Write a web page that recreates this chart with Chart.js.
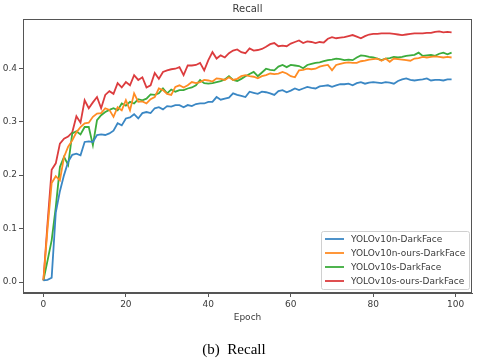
<!DOCTYPE html>
<html>
<head>
<meta charset="utf-8">
<script src="https://cdn.jsdelivr.net/npm/chart.js@4.4.1/dist/chart.umd.min.js"></script>
<style>
  html, body { margin: 0; padding: 0; background: #fff; }
  #wrap { width: 480px; height: 360px; }
</style>
</head>
<body>
<div id="wrap"><canvas id="myChart" width="480" height="360"></canvas></div>
<script>
// Data (epoch 0..99)
let epochs = [];
for (let i = 0; i < 100; i++) epochs.push(i);

let xTicks = [0, 20, 40, 60, 80, 100];
let yTicks = [0.0, 0.1, 0.2, 0.3, 0.4];

let seriesNames = ["YOLOv10n-DarkFace", "YOLOv10n-ours-DarkFace", "YOLOv10s-DarkFace", "YOLOv10s-ours-DarkFace"];
let seriesColors = ["#3a87c4", "#ff8c24", "#3cac3c", "#dc3c3e"];

let v10n = [0.003, 0.004, 0.008, 0.13, 0.17, 0.2, 0.225, 0.238, 0.24, 0.237,
  0.262, 0.263, 0.262, 0.275, 0.276, 0.275, 0.278, 0.283, 0.297, 0.293,
  0.306, 0.308, 0.314, 0.306, 0.316, 0.318, 0.316, 0.325, 0.327, 0.323,
  0.329, 0.328, 0.331, 0.331, 0.327, 0.331, 0.329, 0.333, 0.334, 0.334,
  0.337, 0.337, 0.346, 0.341, 0.343, 0.345, 0.353, 0.35, 0.348, 0.346,
  0.356, 0.354, 0.352, 0.356, 0.355, 0.353, 0.35, 0.357, 0.359, 0.355,
  0.358, 0.362, 0.359, 0.362, 0.365, 0.363, 0.362, 0.366, 0.367, 0.368,
  0.365, 0.368, 0.37, 0.37, 0.371, 0.368, 0.372, 0.374, 0.371, 0.373,
  0.374, 0.373, 0.372, 0.374, 0.373, 0.371, 0.376, 0.379, 0.381, 0.378,
  0.377, 0.378, 0.379, 0.381, 0.377, 0.378, 0.378, 0.377, 0.379, 0.379];

let v10nOurs = [0.003, 0.10, 0.185, 0.198, 0.19, 0.234, 0.253, 0.265, 0.28, 0.29,
  0.297, 0.298, 0.309, 0.315, 0.316, 0.325, 0.322, 0.309, 0.327, 0.321,
  0.34, 0.321, 0.353, 0.337, 0.338, 0.334, 0.342, 0.346, 0.362, 0.359,
  0.352, 0.35, 0.365, 0.368, 0.364, 0.368, 0.374, 0.372, 0.374, 0.378,
  0.377, 0.375, 0.381, 0.38, 0.378, 0.383, 0.378, 0.38, 0.385, 0.387,
  0.385, 0.384, 0.381, 0.385, 0.387, 0.39, 0.389, 0.39, 0.393, 0.39,
  0.385, 0.383, 0.396, 0.397, 0.399, 0.398, 0.399, 0.403, 0.405, 0.406,
  0.396, 0.406, 0.408, 0.41, 0.411, 0.41, 0.41, 0.413, 0.414, 0.416,
  0.417, 0.418, 0.414, 0.418, 0.412, 0.418, 0.417, 0.416, 0.415, 0.414,
  0.418, 0.419, 0.421, 0.42, 0.421, 0.422, 0.421, 0.42, 0.421, 0.42];

let v10s = [0.003, 0.04, 0.078, 0.14, 0.215, 0.234, 0.219, 0.278, 0.282, 0.276,
  0.29, 0.29, 0.256, 0.303, 0.312, 0.318, 0.322, 0.325, 0.321, 0.334,
  0.33, 0.337, 0.334, 0.342, 0.34, 0.343, 0.351, 0.35, 0.353, 0.362,
  0.353, 0.36, 0.356, 0.359, 0.359, 0.362, 0.364, 0.368, 0.378, 0.372,
  0.371, 0.372, 0.374, 0.376, 0.379, 0.385, 0.378, 0.376, 0.38, 0.385,
  0.389, 0.393, 0.385, 0.392, 0.399, 0.397, 0.396, 0.403, 0.406, 0.402,
  0.406, 0.405, 0.404, 0.4, 0.406, 0.408, 0.41, 0.411, 0.413, 0.415,
  0.416, 0.418, 0.417, 0.415, 0.416, 0.415, 0.42, 0.424, 0.423, 0.421,
  0.42, 0.418, 0.415, 0.418, 0.419, 0.421, 0.42, 0.421, 0.423, 0.424,
  0.425, 0.429, 0.423, 0.424, 0.425, 0.423, 0.427, 0.429, 0.426, 0.429];

let v10sOurs = [0.003, 0.11, 0.21, 0.222, 0.259, 0.268, 0.272, 0.28, 0.31, 0.298,
  0.34, 0.325, 0.336, 0.346, 0.325, 0.35, 0.357, 0.352, 0.372, 0.364,
  0.374, 0.368, 0.387, 0.378, 0.383, 0.364, 0.368, 0.391, 0.38, 0.393,
  0.396, 0.398, 0.399, 0.402, 0.387, 0.405, 0.405, 0.406, 0.41, 0.396,
  0.415, 0.43, 0.418, 0.424, 0.42, 0.428, 0.433, 0.435, 0.43, 0.428,
  0.437, 0.433, 0.434, 0.436, 0.44, 0.445, 0.447, 0.441, 0.442, 0.441,
  0.446, 0.449, 0.452, 0.447, 0.45, 0.449, 0.447, 0.449, 0.448, 0.455,
  0.458, 0.456, 0.457, 0.458, 0.46, 0.462, 0.459, 0.456, 0.46, 0.463,
  0.464, 0.464, 0.465, 0.465, 0.465, 0.464, 0.463, 0.462, 0.463, 0.464,
  0.465, 0.465, 0.465, 0.466, 0.466, 0.468, 0.469, 0.467, 0.468, 0.467];

let allSeries = [v10n, v10nOurs, v10s, v10sOurs];

function toPoints(values) {
    return values.map(function(v, i) { return { x: epochs[i], y: v }; });
}

let datasets = allSeries.map(function(values, i) {
    return {
        label: seriesNames[i],
        data: toPoints(values),
        borderColor: seriesColors[i],
        backgroundColor: seriesColors[i],
        borderWidth: 1.8,
        pointRadius: 0,
        tension: 0,
        fill: false
    };
});

let axisColor = "#555";
let textColor = "#3a3a3a";

// Frame, title, legend box and caption, drawn like matplotlib
let extras = {
    id: "extras",
    afterDraw: function(chart) {
        let ctx = chart.ctx;
        let area = chart.chartArea;
        ctx.save();
        // spines on all sides
        ctx.strokeStyle = axisColor;
        ctx.lineWidth = 1;
        ctx.strokeRect(area.left + 0.5, area.top + 0.5, area.right - area.left - 1, area.bottom - area.top - 1);

        // title
        ctx.fillStyle = textColor;
        ctx.font = "10px 'DejaVu Sans'";
        ctx.textAlign = "center";
        ctx.textBaseline = "middle";
        ctx.fillText("Recall", (area.left + area.right) / 2, 9);

        // legend (lower right, inside the axes)
        let boxW = 148, boxH = 58;
        let bx = area.right - 3 - boxW;
        let by = area.bottom - 4 - boxH;
        ctx.fillStyle = "rgba(255,255,255,0.8)";
        ctx.strokeStyle = "#d0d0d0";
        ctx.beginPath();
        ctx.roundRect(bx + 0.5, by + 0.5, boxW, boxH, 2);
        ctx.fill();
        ctx.stroke();
        ctx.font = "9px 'DejaVu Sans'";
        ctx.textAlign = "left";
        chart.data.datasets.forEach(function(ds, i) {
            let y = by + 8 + i * 14;
            ctx.strokeStyle = ds.borderColor;
            ctx.lineWidth = 1.8;
            ctx.beginPath();
            ctx.moveTo(bx + 4, y);
            ctx.lineTo(bx + 23, y);
            ctx.stroke();
            ctx.fillStyle = textColor;
            ctx.fillText(ds.label, bx + 30, y + 0.5);
        });

        // figure caption
        ctx.fillStyle = "#000";
        ctx.font = "15px 'Liberation Serif'";
        ctx.textAlign = "center";
        ctx.fillText("(b)  Recall", 234, 350);
        ctx.restore();
    }
};

let ctx = document.getElementById("myChart").getContext("2d");
let myChart = new Chart(ctx, {
    type: "line",
    data: { datasets: datasets },
    options: {
        responsive: false,
        animation: false,
        layout: { padding: { left: 0, right: 8, top: 19, bottom: 0 } },
        plugins: {
            legend: { display: false },
            title: { display: false },
            tooltip: { enabled: false }
        },
        scales: {
            x: {
                type: "linear",
                min: -4.95,
                max: 103.95,
                afterFit: function(scale) { scale.height = 67; },
                afterBuildTicks: function(scale) {
                    scale.ticks = xTicks.map(function(v) { return { value: v }; });
                },
                ticks: {
                    color: textColor,
                    font: { family: "DejaVu Sans", size: 9 },
                    padding: 2,
                    maxRotation: 0,
                    callback: function(v) { return String(v); }
                },
                grid: { drawOnChartArea: false, drawTicks: true, tickLength: 4, color: axisColor },
                border: { display: true, color: axisColor },
                title: {
                    display: true,
                    text: "Epoch",
                    color: textColor,
                    font: { family: "DejaVu Sans", size: 9 },
                    padding: { top: 4, bottom: 37 }
                }
            },
            y: {
                min: -0.0205,
                max: 0.492,
                afterFit: function(scale) { scale.width = 23; },
                afterBuildTicks: function(scale) {
                    scale.ticks = yTicks.map(function(v) { return { value: v }; });
                },
                ticks: {
                    color: textColor,
                    font: { family: "DejaVu Sans", size: 9 },
                    padding: 2,
                    callback: function(v) { return Number(v).toFixed(1); }
                },
                grid: { drawOnChartArea: false, drawTicks: true, tickLength: 4, color: axisColor },
                border: { display: true, color: axisColor }
            }
        }
    },
    plugins: [extras]
});
</script>
</body>
</html>
